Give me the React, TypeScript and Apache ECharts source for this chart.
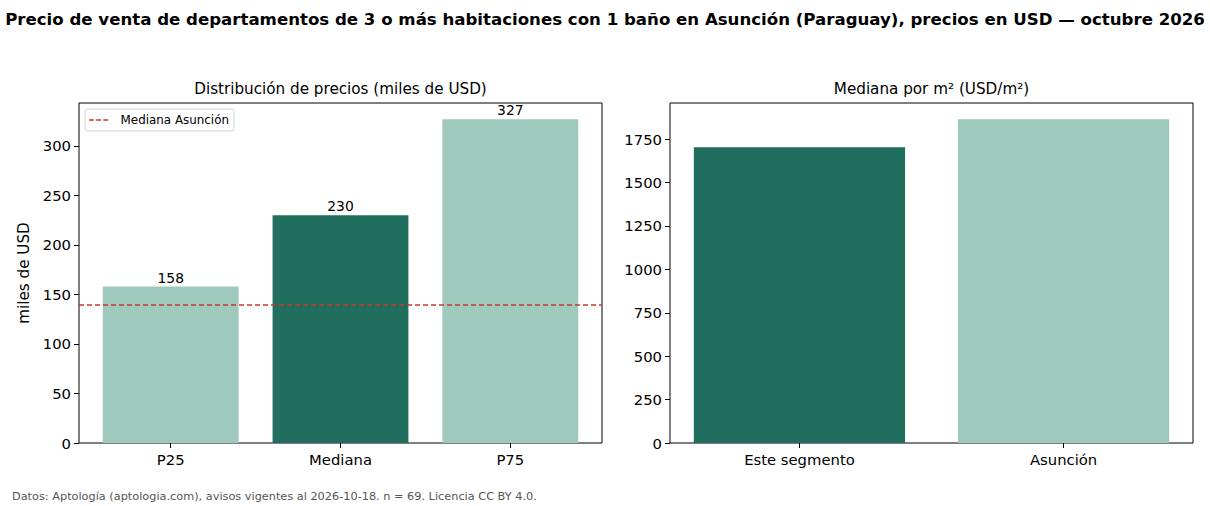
import React, { useEffect, useRef } from "react";
import * as echarts from "echarts";

// Price distribution (thousands of USD)
const priceCategories = ["P25", "Mediana", "P75"];
const priceValues = [158, 230, 327];
const asuncionMedianPrice = 140;

// Median per square metre (USD/m²)
const m2Categories = ["Este segmento", "Asunción"];
const m2Values = [1704, 1865];

const DARK = "#206e5e";
const LIGHT = "#9ec9bc";
const RED = "#c8372d";
const FONT = "DejaVu Sans";

const priceColors = [LIGHT, DARK, LIGHT];
const m2Colors = [DARK, LIGHT];

// Dashed line glyph for the legend entry
const DASH_ICON = "path://M0,0h6v2h-6zM9,0h6v2h-6zM18,0h6v2h-6z";

export default function App() {
  const ref = useRef<HTMLDivElement>(null);

  useEffect(() => {
    if (!ref.current) return;
    const chart = echarts.init(ref.current, undefined, { renderer: "svg" });

    const priceMax = Math.max(...priceValues) * 1.05;
    const m2Max = Math.max(...m2Values) * 1.05;

    const frameGrid = { top: 103, height: 340, width: 523, show: true, borderColor: "#000", borderWidth: 1, backgroundColor: "transparent" };
    const hiddenX = { type: "value" as const, show: false, min: 0, max: 1 };
    const axisLabelStyle = { color: "#000", fontFamily: FONT, fontSize: 14.8 };

    const yVisible = (gridIndex: number, max: number, interval: number, extra: any = {}) => ({
      type: "value",
      gridIndex,
      min: 0,
      max,
      interval,
      axisLine: { show: false },
      axisTick: { show: true, length: 5, lineStyle: { color: "#000" } },
      axisLabel: { ...axisLabelStyle, margin: 8, showMaxLabel: false, formatter: (v: number) => String(v) },
      splitLine: { show: false },
      ...extra,
    });
    const yHidden = (gridIndex: number, max: number) => ({
      type: "value",
      gridIndex,
      min: 0,
      max,
      show: false,
      splitLine: { show: false },
    });
    const xCategory = (gridIndex: number, data: string[]) => ({
      type: "category",
      gridIndex,
      data,
      axisLine: { show: false },
      axisTick: { show: true, alignWithLabel: true, length: 5, lineStyle: { color: "#000" } },
      axisLabel: { ...axisLabelStyle, margin: 9 },
    });
    const barLabel = {
      show: true,
      position: "top",
      distance: 2,
      color: "#000",
      fontFamily: FONT,
      fontSize: 13.9,
    };

    chart.setOption({
      animation: false,
      backgroundColor: "#fff",
      textStyle: { fontFamily: FONT },
      title: [
        {
          text: "Precio de venta de departamentos de 3 o más habitaciones con 1 baño en Asunción (Paraguay), precios en USD — octubre 2026",
          left: 600,
          top: 6,
          textAlign: "center",
          textStyle: { fontFamily: FONT, fontSize: 16.6, fontWeight: "bold", color: "#000" },
        },
        {
          text: "Distribución de precios (miles de USD)",
          left: 335.5,
          top: 76,
          textAlign: "center",
          textStyle: { fontFamily: FONT, fontSize: 15.2, fontWeight: "normal", color: "#000" },
        },
        {
          text: "Mediana por m² (USD/m²)",
          left: 926.5,
          top: 76,
          textAlign: "center",
          textStyle: { fontFamily: FONT, fontSize: 15.2, fontWeight: "normal", color: "#000" },
        },
        {
          text: "Datos: Aptología (aptologia.com), avisos vigentes al 2026-10-18. n = 69. Licencia CC BY 4.0.",
          left: 7,
          top: 486,
          textStyle: { fontFamily: FONT, fontSize: 11.3, fontWeight: "normal", color: "#555" },
        },
      ],
      legend: {
        data: [{ name: "Mediana Asunción", icon: DASH_ICON, itemStyle: { color: RED } }],
        left: 85,
        top: 109,
        orient: "vertical",
        padding: [5, 5, 5, 4],
        itemWidth: 26,
        itemHeight: 1.6,
        itemGap: 4,
        borderColor: "#d6d6d6",
        borderWidth: 1,
        borderRadius: 3,
        backgroundColor: "rgba(255,255,255,0.85)",
        textStyle: { fontFamily: FONT, fontSize: 11.9, color: "#000", padding: [0, 0, 0, 4] },
      },
      grid: [
        { ...frameGrid, left: 79 },
        { top: 103, height: 340, left: 85.8, width: 509.4, show: false },
        { ...frameGrid, left: 670 },
        { top: 103, height: 340, left: 667.4, width: 528.2, show: false },
      ],
      xAxis: [
        { ...hiddenX, gridIndex: 0 },
        xCategory(1, priceCategories),
        { ...hiddenX, gridIndex: 2 },
        xCategory(3, m2Categories),
      ],
      yAxis: [
        yVisible(0, priceMax, 50, {
          name: "miles de USD",
          nameLocation: "middle",
          nameGap: 48,
          nameRotate: 90,
          nameTextStyle: { fontFamily: FONT, fontSize: 15.2, color: "#000" },
        }),
        yHidden(1, priceMax),
        yVisible(2, m2Max, 250),
        yHidden(3, m2Max),
      ],
      series: [
        {
          type: "bar",
          xAxisIndex: 1,
          yAxisIndex: 1,
          barWidth: "80%",
          data: priceValues.map((v, i) => ({ value: v, itemStyle: { color: priceColors[i] } })),
          label: barLabel,
          z: 2,
        },
        {
          name: "Mediana Asunción",
          type: "line",
          xAxisIndex: 0,
          yAxisIndex: 0,
          data: [],
          symbol: "none",
          color: RED,
          lineStyle: { color: RED, type: [5, 3], width: 1.5 },
          markLine: {
            silent: true,
            symbol: "none",
            label: { show: false },
            lineStyle: { color: RED, type: [5, 3], width: 1.5 },
            data: [{ yAxis: asuncionMedianPrice }],
          },
          z: 3,
        },
        {
          type: "bar",
          xAxisIndex: 3,
          yAxisIndex: 3,
          barWidth: "80%",
          data: m2Values.map((v, i) => ({ value: v, itemStyle: { color: m2Colors[i] } })),
        },
      ],
    });

    return () => chart.dispose();
  }, []);

  return (
    <div
      ref={ref}
      style={{ position: "fixed", left: 0, top: 0, width: 1210, height: 506, background: "#fff" }}
    />
  );
}
